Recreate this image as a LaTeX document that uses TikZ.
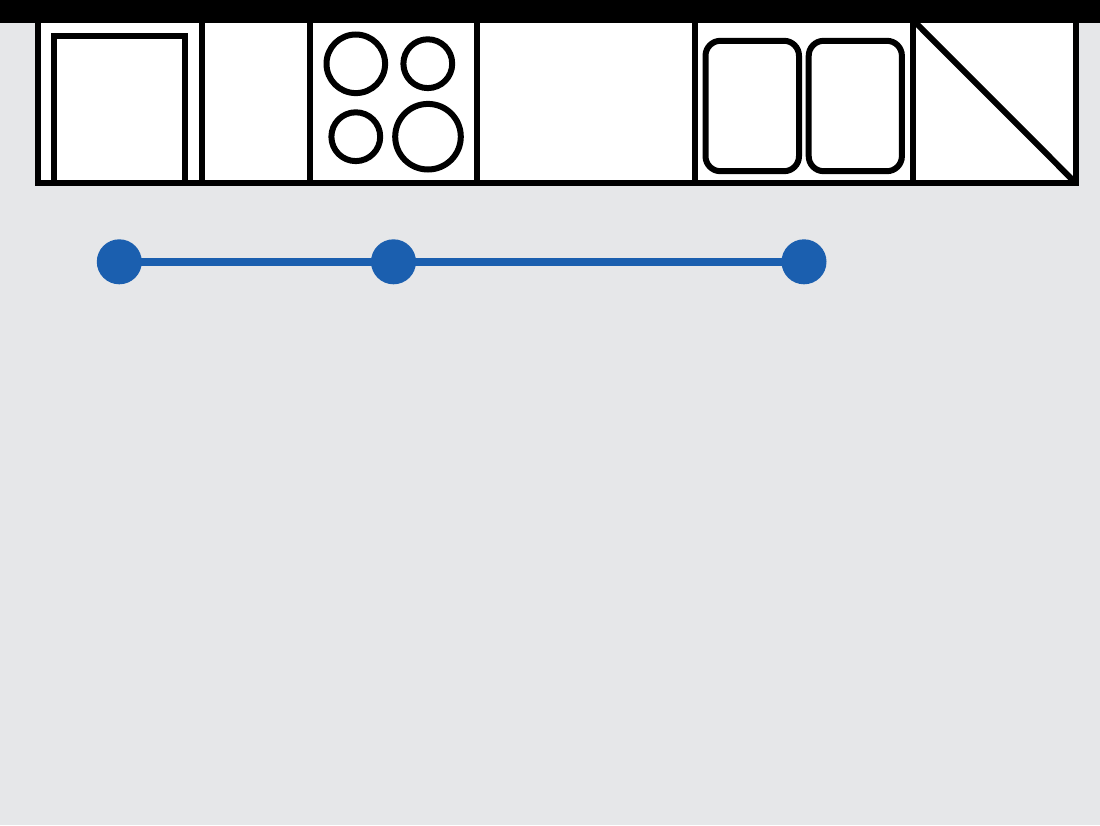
\documentclass[tikz,border=0pt]{standalone}
\definecolor{bgc}{HTML}{E6E7E9}
\definecolor{bluec}{HTML}{1B5FAF}
\tikzset{
  outl/.style={draw=black,line width=6pt,line join=miter},
  dot/.style={circle,fill=bluec,draw=none,minimum size=45pt,inner sep=0pt},
  conn/.style={draw=bluec,line width=8pt,shorten <=-3pt,shorten >=-3pt},
}
\begin{document}
\begin{tikzpicture}[x=1pt,y=-1pt]
\useasboundingbox (0,0) rectangle (1100,825);
\fill[bgc] (0,0) rectangle (1100,825);
% worktop
\fill[white] (37.5,20) rectangle (1076,183.3);
% diagonal
\draw[outl] (913,20) -- (1076,183.3);
% outline and dividers
\draw[outl] (37.5,20) -- (37.5,183.3) -- (1076,183.3) -- (1076,20);
\foreach \x in {201.5,310.3,476.7,694.7,913} \draw[outl] (\x,20) -- (\x,183.3);
% appliance door
\draw[outl] (54.3,183.3) -- (54.3,36.3) -- (185,36.3) -- (185,183.3);
% hob
\draw[outl] (355.8,63.8) circle[radius=29.3];
\draw[outl] (427.8,63.7) circle[radius=24.4];
\draw[outl] (355.8,136.7) circle[radius=24.4];
\draw[outl] (428,136.7) circle[radius=32.8];
% sinks
\draw[outl,rounded corners=15pt] (705.5,40.8) rectangle (799,171.2);
\draw[outl,rounded corners=15pt] (808.7,40.8) rectangle (901.9,171.2);
% top bar
\fill[black] (0,0) rectangle (1100,23);
% blue line
\node[dot] (a) at (119.3,261.8) {};
\node[dot] (b) at (393.5,261.8) {};
\node[dot] (c) at (804,261.8) {};
\draw[conn] (a) -- (b);
\draw[conn] (b) -- (c);
\end{tikzpicture}
\end{document}
